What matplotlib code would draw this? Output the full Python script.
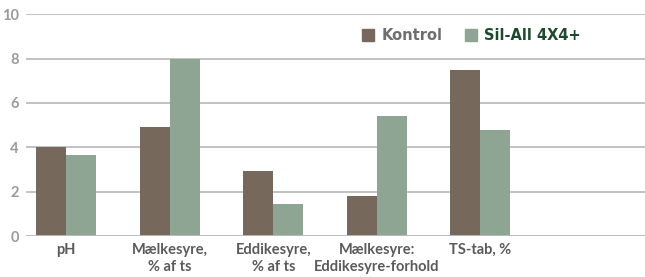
import numpy as np
import matplotlib.pyplot as plt
from matplotlib.patches import Patch

# Data
categories = ["pH", "Mælkesyre,\n% af ts", "Eddikesyre,\n% af ts",
              "Mælkesyre:\nEddikesyre-forhold", "TS-tab, %"]
kontrol = [4.0, 4.9, 2.95, 1.8, 7.5]
silall = [3.65, 8.0, 1.45, 5.4, 4.8]
series_names = ["Kontrol", "Sil-All 4X4+"]

brown = "#76685a"
green = "#8fa593"

plt.rcParams['font.family'] = ['Lato', 'DejaVu Sans']

fig = plt.figure(figsize=(6.45, 2.77), dpi=100)
ax = fig.add_axes([0.04, 0.148, 0.96, 0.801])

x = np.arange(len(categories))
w = 0.29
ax.bar(x - w / 2, kontrol, w, color=brown, zorder=3)
ax.bar(x + w / 2, silall, w, color=green, zorder=3)

ax.set_xlim(-0.39, 5.59)
ax.set_ylim(0, 10)
ax.set_yticks(range(0, 11, 2))
ax.yaxis.grid(True, color="#bdbdbd", linewidth=1.3, zorder=0)
for s in ax.spines.values():
    s.set_visible(False)
ax.axhline(0, color="#bdbdbd", linewidth=1.3, zorder=4)

ax.set_xticks(x)
ax.set_xticklabels(categories, fontsize=10.5, fontweight="bold", color="#5a5a5a",
                   linespacing=1.25)
ax.tick_params(axis="x", length=0, pad=5)
ax.tick_params(axis="y", length=0, pad=5, labelsize=10.5, labelcolor="#9a9a9a")
for lab in ax.get_yticklabels():
    lab.set_fontweight("bold")

handles = [Patch(color=brown), Patch(color=green)]
leg = ax.legend(handles, series_names, loc="center", bbox_to_anchor=(0.72, 0.905),
                ncol=2, frameon=False, fontsize=11.5, handlelength=0.8,
                handleheight=0.9, columnspacing=1.6, handletextpad=0.5,
                prop={"family": ["DejaVu Sans"], "weight": "bold", "size": 10.5})
texts = leg.get_texts()
texts[0].set_color("#6e6e6e")
texts[1].set_color("#1d4a2b")

fig.savefig("out.png", dpi=100)
